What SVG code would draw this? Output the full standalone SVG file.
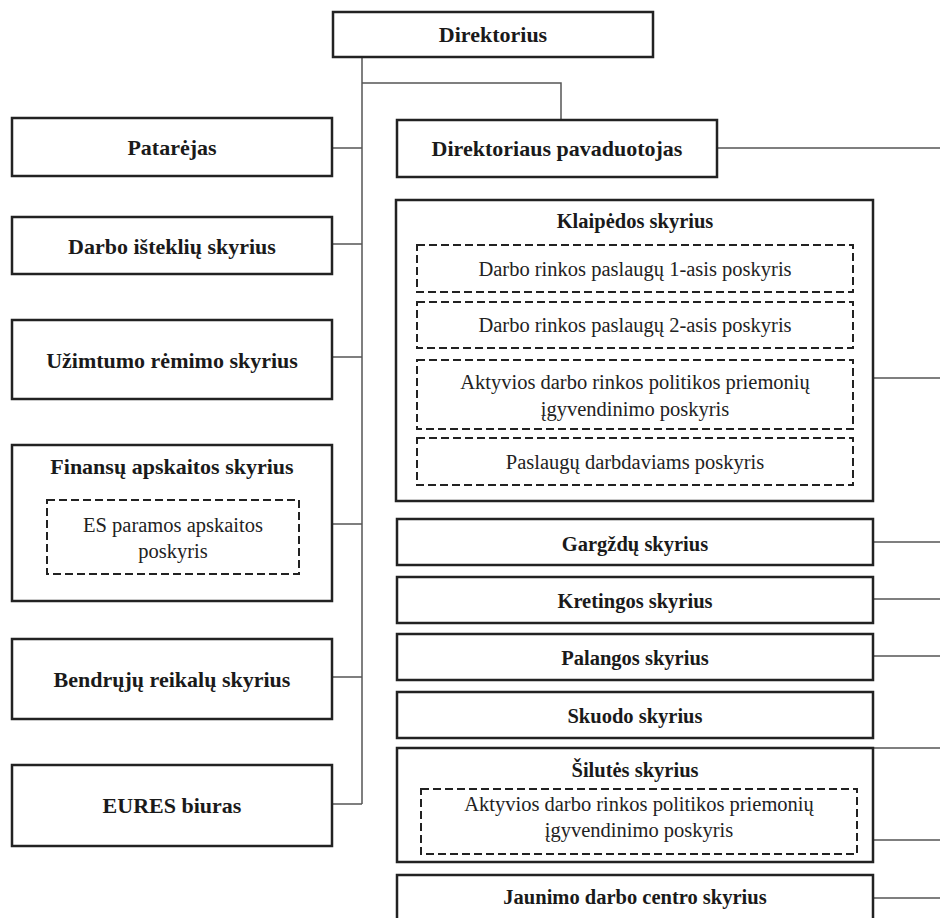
<svg xmlns="http://www.w3.org/2000/svg" width="940" height="918" viewBox="0 0 940 918">
<style>
.box{fill:#fff;stroke:#222;stroke-width:2.5}
.dash{fill:none;stroke:#222;stroke-width:2;stroke-dasharray:8 4}
.con{fill:none;stroke:#555;stroke-width:1.5}
text{font-family:'Liberation Serif','Times New Roman',Times,serif;text-anchor:middle}
.b{font-weight:bold;font-size:22px;fill:#1a1a1a}
.bs{font-weight:bold;font-size:20.5px;fill:#1a1a1a}
.r{font-size:20.5px;fill:#222}
</style>
<rect width="940" height="918" fill="#fff"/>
<g id="connectors">
<path class="con" d="M362 57V804M362 83H561V120"/>
<path class="con" d="M332 148H362M332 244H362M332 357H362M332 524H362M332 677H362M332 804H362"/>
<path class="con" d="M717 148H940M873 378H940M873 542H940M873 599H940M873 656H940M873 748H940M873 840H940M873 898H940"/>
</g>
<g id="direktorius"><rect class="box" x="333" y="12" width="320" height="45"/><text class="b" x="493" y="42">Direktorius</text></g>
<g id="patarejas"><rect class="box" x="12" y="118" width="320" height="58"/><text class="b" x="172" y="155">Patarėjas</text></g>
<g id="darbo-istekliu"><rect class="box" x="12" y="217" width="320" height="57"/><text class="b" x="172" y="254">Darbo išteklių skyrius</text></g>
<g id="uzimtumo"><rect class="box" x="12" y="320" width="320" height="79"/><text class="b" x="172" y="368">Užimtumo rėmimo skyrius</text></g>
<g id="finansu"><rect class="box" x="12" y="445" width="320" height="156"/><text class="b" x="172" y="474">Finansų apskaitos skyrius</text>
<rect class="dash" x="47" y="500" width="252" height="74"/><text class="r" x="173" y="532">ES paramos apskaitos</text><text class="r" x="173" y="558">poskyris</text></g>
<g id="bendruju"><rect class="box" x="12" y="639" width="320" height="80"/><text class="b" x="172" y="687">Bendrųjų reikalų skyrius</text></g>
<g id="eures"><rect class="box" x="12" y="765" width="320" height="81"/><text class="b" x="172" y="813">EURES biuras</text></g>
<g id="pavaduotojas"><rect class="box" x="397" y="120" width="320" height="57"/><text class="b" x="557" y="156">Direktoriaus pavaduotojas</text></g>
<g id="klaipedos"><rect class="box" x="396" y="200" width="477" height="301"/><text class="bs" x="635" y="228">Klaipėdos skyrius</text>
<rect class="dash" x="417" y="245" width="436" height="47"/><text class="r" x="635" y="276">Darbo rinkos paslaugų 1-asis poskyris</text>
<rect class="dash" x="417" y="302" width="436" height="46"/><text class="r" x="635" y="332">Darbo rinkos paslaugų 2-asis poskyris</text>
<rect class="dash" x="417" y="360" width="436" height="69"/><text class="r" x="635" y="389">Aktyvios darbo rinkos politikos priemonių</text><text class="r" x="635" y="416">įgyvendinimo poskyris</text>
<rect class="dash" x="417" y="438" width="436" height="47"/><text class="r" x="635" y="469">Paslaugų darbdaviams poskyris</text></g>
<g id="gargzdu"><rect class="box" x="397" y="519" width="476" height="46"/><text class="bs" x="635" y="551">Gargždų skyrius</text></g>
<g id="kretingos"><rect class="box" x="397" y="577" width="476" height="46"/><text class="bs" x="635" y="608">Kretingos skyrius</text></g>
<g id="palangos"><rect class="box" x="397" y="634" width="476" height="46"/><text class="bs" x="635" y="665">Palangos skyrius</text></g>
<g id="skuodo"><rect class="box" x="397" y="692" width="476" height="46"/><text class="bs" x="635" y="723">Skuodo skyrius</text></g>
<g id="silutes"><rect class="box" x="397" y="748" width="476" height="114"/><text class="bs" x="635" y="777">Šilutės skyrius</text>
<rect class="dash" x="421" y="789" width="436" height="65"/><text class="r" x="639" y="811">Aktyvios darbo rinkos politikos priemonių</text><text class="r" x="639" y="837">įgyvendinimo poskyris</text></g>
<g id="jaunimo"><rect class="box" x="397" y="875" width="476" height="50"/><text class="bs" x="635" y="904">Jaunimo darbo centro skyrius</text></g>
</svg>
